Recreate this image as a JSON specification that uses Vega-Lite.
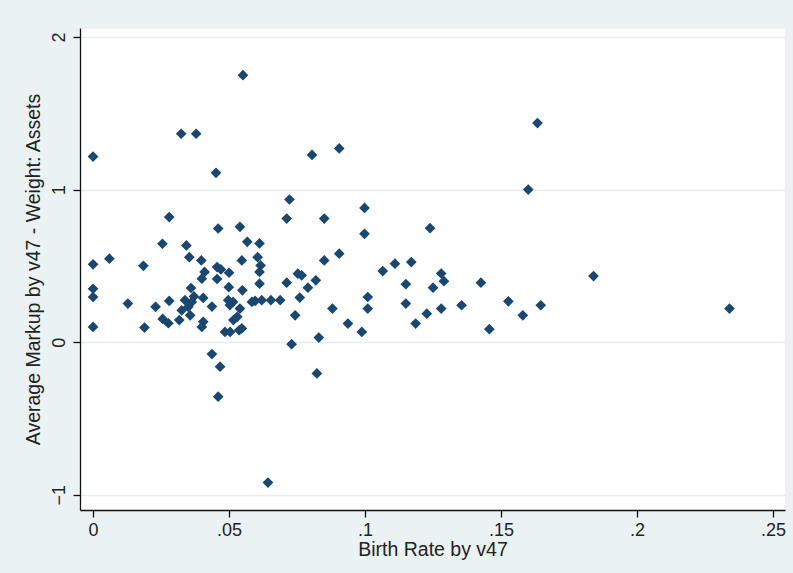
{
  "$schema": "https://vega.github.io/schema/vega-lite/v6.json",
  "width": 705,
  "height": 482,
  "autosize": "none",
  "padding": {"left": 80, "top": 28, "right": 8, "bottom": 63},
  "background": "#EAF2F3",
  "view": {"fill": "white", "stroke": "#EAF2F3"},
  "config": {
    "font": "Liberation Sans",
    "axis": {
      "labelFont": "Liberation Sans",
      "titleFont": "Liberation Sans",
      "labelFontSize": 18,
      "titleFontSize": 19.5,
      "titleFontWeight": "normal",
      "labelColor": "#222222",
      "titleColor": "#222222",
      "domainColor": "#111111",
      "tickColor": "#111111",
      "domainWidth": 1.3,
      "tickWidth": 1.3,
      "tickSize": 7,
      "gridColor": "#E4ECEE",
      "gridWidth": 1.5
    }
  },
  "data": {
    "values": [
      {"x": 0, "y": 1.216}, {"x": 0, "y": 0.51}, {"x": 0, "y": 0.35}, {"x": 0, "y": 0.296}, {"x": 0, "y": 0.10},
      {"x": 0.006, "y": 0.547}, {"x": 0.0128, "y": 0.253}, {"x": 0.0185, "y": 0.50}, {"x": 0.0189, "y": 0.096},
      {"x": 0.023, "y": 0.232}, {"x": 0.0255, "y": 0.645}, {"x": 0.0256, "y": 0.152}, {"x": 0.0277, "y": 0.124},
      {"x": 0.028, "y": 0.27}, {"x": 0.028, "y": 0.82}, {"x": 0.0317, "y": 0.145}, {"x": 0.0324, "y": 1.366},
      {"x": 0.0379, "y": 1.366}, {"x": 0.0343, "y": 0.634}, {"x": 0.0354, "y": 0.557}, {"x": 0.036, "y": 0.355},
      {"x": 0.0338, "y": 0.275}, {"x": 0.0363, "y": 0.264}, {"x": 0.035, "y": 0.231}, {"x": 0.0357, "y": 0.176},
      {"x": 0.0326, "y": 0.209}, {"x": 0.0371, "y": 0.30}, {"x": 0.0398, "y": 0.536}, {"x": 0.041, "y": 0.46},
      {"x": 0.040, "y": 0.416}, {"x": 0.0405, "y": 0.29}, {"x": 0.0437, "y": 0.233}, {"x": 0.0405, "y": 0.133},
      {"x": 0.040, "y": 0.10}, {"x": 0.0437, "y": -0.078}, {"x": 0.0467, "y": -0.161}, {"x": 0.046, "y": -0.357},
      {"x": 0.0452, "y": 1.11}, {"x": 0.046, "y": 0.745}, {"x": 0.0456, "y": 0.492}, {"x": 0.047, "y": 0.477},
      {"x": 0.050, "y": 0.455}, {"x": 0.0456, "y": 0.414}, {"x": 0.0499, "y": 0.36}, {"x": 0.0497, "y": 0.275},
      {"x": 0.0515, "y": 0.264}, {"x": 0.0503, "y": 0.243}, {"x": 0.0549, "y": 0.34}, {"x": 0.054, "y": 0.22},
      {"x": 0.053, "y": 0.166}, {"x": 0.0516, "y": 0.145}, {"x": 0.0485, "y": 0.067}, {"x": 0.0504, "y": 0.067},
      {"x": 0.0537, "y": 0.078}, {"x": 0.0551, "y": 1.75}, {"x": 0.054, "y": 0.756}, {"x": 0.0567, "y": 0.658},
      {"x": 0.0612, "y": 0.647}, {"x": 0.0547, "y": 0.536}, {"x": 0.0605, "y": 0.557}, {"x": 0.0616, "y": 0.503},
      {"x": 0.0612, "y": 0.46}, {"x": 0.0612, "y": 0.383}, {"x": 0.0547, "y": 0.09}, {"x": 0.0584, "y": 0.264},
      {"x": 0.0596, "y": 0.27}, {"x": 0.062, "y": 0.275}, {"x": 0.0654, "y": 0.275}, {"x": 0.0688, "y": 0.275},
      {"x": 0.0643, "y": -0.92}, {"x": 0.0712, "y": 0.81}, {"x": 0.0722, "y": 0.935}, {"x": 0.0712, "y": 0.39},
      {"x": 0.0753, "y": 0.449}, {"x": 0.0767, "y": 0.438}, {"x": 0.0819, "y": 0.405}, {"x": 0.079, "y": 0.357},
      {"x": 0.076, "y": 0.292}, {"x": 0.0743, "y": 0.176}, {"x": 0.073, "y": -0.013}, {"x": 0.0805, "y": 1.227},
      {"x": 0.0905, "y": 1.27}, {"x": 0.085, "y": 0.81}, {"x": 0.085, "y": 0.536}, {"x": 0.0905, "y": 0.58},
      {"x": 0.088, "y": 0.22}, {"x": 0.0937, "y": 0.122}, {"x": 0.0988, "y": 0.067}, {"x": 0.083, "y": 0.03},
      {"x": 0.0823, "y": -0.205}, {"x": 0.0998, "y": 0.88}, {"x": 0.0998, "y": 0.71}, {"x": 0.101, "y": 0.296},
      {"x": 0.101, "y": 0.22}, {"x": 0.1065, "y": 0.466}, {"x": 0.111, "y": 0.514}, {"x": 0.117, "y": 0.525},
      {"x": 0.115, "y": 0.38}, {"x": 0.115, "y": 0.253}, {"x": 0.1186, "y": 0.122}, {"x": 0.1227, "y": 0.187},
      {"x": 0.1239, "y": 0.747}, {"x": 0.125, "y": 0.357}, {"x": 0.128, "y": 0.45}, {"x": 0.129, "y": 0.40},
      {"x": 0.128, "y": 0.22}, {"x": 0.1355, "y": 0.242}, {"x": 0.1426, "y": 0.39}, {"x": 0.1457, "y": 0.085},
      {"x": 0.1527, "y": 0.268}, {"x": 0.158, "y": 0.176}, {"x": 0.160, "y": 1.0}, {"x": 0.1634, "y": 1.436},
      {"x": 0.1646, "y": 0.242}, {"x": 0.184, "y": 0.433}, {"x": 0.234, "y": 0.22}
    ]
  },
  "mark": {"type": "point", "shape": "diamond", "filled": true, "size": 115, "color": "#1a476f", "opacity": 1},
  "encoding": {
    "x": {
      "field": "x",
      "type": "quantitative",
      "title": "Birth Rate by v47",
      "scale": {"domain": [-0.0048, 0.2544], "nice": false, "zero": false},
      "axis": {
        "values": [0, 0.05, 0.1, 0.15, 0.2, 0.25],
        "labelExpr": "datum.value == 0 ? '0' : slice(format(datum.value, '~g'), 1)",
        "grid": false,
        "labelPadding": 4,
        "titlePadding": 1,
        "labelFlush": false
      }
    },
    "y": {
      "field": "y",
      "type": "quantitative",
      "title": "Average Markup by v47 - Weight: Assets",
      "scale": {"domain": [-1.1, 2.059], "nice": false, "zero": false},
      "axis": {
        "values": [-1, 0, 1, 2],
        "grid": true,
        "labelAngle": 270,
        "labelAlign": "center",
        "labelBaseline": "bottom",
        "labelPadding": 5,
        "titlePadding": 7,
        "labelFlush": false
      }
    }
  }
}
